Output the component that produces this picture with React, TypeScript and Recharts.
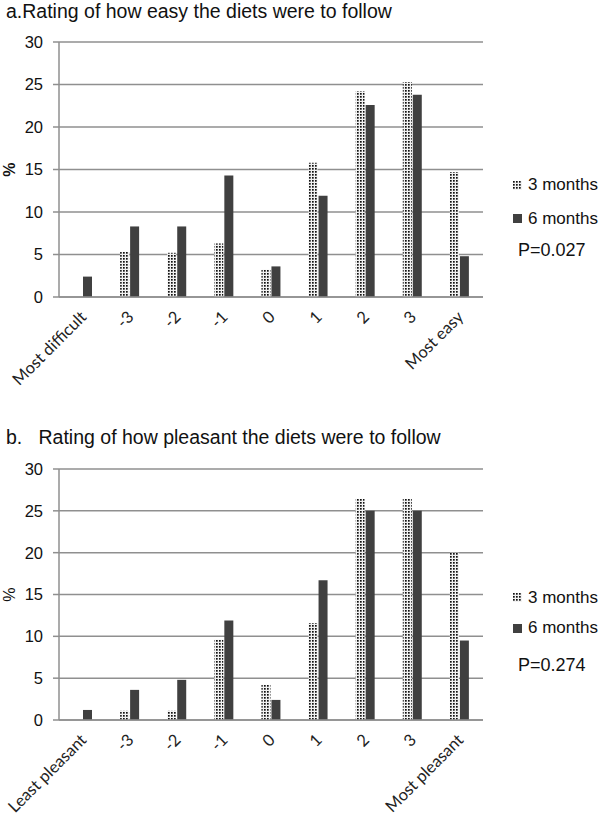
import React from 'react';
import { BarChart, Bar, XAxis, YAxis, CartesianGrid, Legend } from 'recharts';

const categoriesA = ['Most difficult', '-3', '-2', '-1', '0', '1', '2', '3', 'Most easy'];
const easy3 = [0, 5.3, 5.2, 6.3, 3.2, 15.8, 24.2, 25.3, 14.7];
const easy6 = [2.4, 8.3, 8.3, 14.3, 3.6, 11.9, 22.6, 23.8, 4.8];

const categoriesB = ['Least pleasant', '-3', '-2', '-1', '0', '1', '2', '3', 'Most pleasant'];
const pleasant3 = [0, 1.1, 1.1, 9.6, 4.2, 11.6, 26.4, 26.4, 20.0];
const pleasant6 = [1.2, 3.6, 4.8, 11.9, 2.4, 16.7, 25.0, 25.0, 9.5];

const yTicks = [0, 5, 10, 15, 20, 25, 30];
const seriesNames = ['3 months', '6 months'];

const GRID = '#8f8f8f';
const DARK = '#404040';
const SANS = '"Liberation Sans", Arial, sans-serif';

const build = (cats: string[], a: number[], b: number[]) =>
  cats.map((c, i) => ({ cat: c, m3: a[i], m6: b[i] }));

const XTick = (props: any) => {
  const { x, y, payload } = props;
  return (
    <g transform={`translate(${x + 5},${y + 13})`}>
      <text
        x={0}
        y={0}
        textAnchor="end"
        transform="rotate(-45)"
        fontFamily="Lato, 'Open Sans', sans-serif"
        fontSize={16.5}
        fill="#222"
      >
        {payload.value}
      </text>
    </g>
  );
};

const LegendBox = ({ rows, pValue }: { rows: number[]; pValue: string }) => (
  <div style={{ position: 'relative', width: 0, height: 0, overflow: 'visible', fontFamily: SANS, color: '#111' }}>
    <div style={{ position: 'absolute', left: 0, top: rows[0] - 10, height: 20, display: 'flex', alignItems: 'center', fontSize: 17, whiteSpace: 'nowrap' }}>
      <svg width={9} height={9} style={{ marginRight: 6 }}>
        <rect x={0} y={0} width={9} height={9} fill="url(#dotPattern)" />
      </svg>
      {seriesNames[0]}
    </div>
    <div style={{ position: 'absolute', left: 0, top: rows[1] - 10, height: 20, display: 'flex', alignItems: 'center', fontSize: 17, whiteSpace: 'nowrap' }}>
      <svg width={9} height={9} style={{ marginRight: 6 }}>
        <rect x={0} y={0} width={9} height={9} fill={DARK} />
      </svg>
      {seriesNames[1]}
    </div>
    <div style={{ position: 'absolute', left: 5, top: rows[2] - 11, height: 22, lineHeight: '22px', fontSize: 18, whiteSpace: 'nowrap' }}>
      {pValue}
    </div>
  </div>
);

type PanelProps = {
  top: number;
  height: number;
  marginTop: number;
  xAxisHeight: number;
  data: any[];
  title: string;
  titleTop: number;
  boldPct: boolean;
  legendRows: number[];
  pValue: string;
};

const Panel = (p: PanelProps) => (
  <div style={{ position: 'absolute', left: 0, top: p.top, width: 600, height: p.height }}>
    <div
      style={{
        position: 'absolute',
        left: 6,
        top: p.titleTop,
        fontFamily: SANS,
        fontSize: 19.5,
        lineHeight: '19.5px',
        color: '#111',
        whiteSpace: 'pre',
      }}
    >
      {p.title}
    </div>
    <BarChart
      width={600}
      height={p.height}
      data={p.data}
      margin={{ top: p.marginTop, right: 117, bottom: 0, left: 0 }}
      barSize={9}
      barGap={1}
    >
      <CartesianGrid vertical={false} stroke={GRID} strokeWidth={1.5} />
      <XAxis
        dataKey="cat"
        interval={0}
        height={p.xAxisHeight}
        tickLine={false}
        axisLine={{ stroke: GRID, strokeWidth: 1.5 }}
        tick={<XTick />}
      />
      <YAxis
        width={59}
        domain={[0, 30]}
        ticks={yTicks}
        interval={0}
        tickSize={6}
        tickMargin={10}
        tickLine={{ stroke: GRID, strokeWidth: 1.5 }}
        axisLine={{ stroke: GRID, strokeWidth: 1.5 }}
        tick={{ fontFamily: SANS, fontSize: 16.5, fill: '#111' }}
        label={{
          content: (lp: any) => {
            const vb = lp.viewBox || {};
            const cx = 9;
            const cy = vb.y + vb.height / 2;
            return (
              <text
                x={cx}
                y={cy}
                transform={`rotate(-90, ${cx}, ${cy})`}
                textAnchor="middle"
                dominantBaseline="central"
                fontFamily={SANS}
                fontSize={16}
                fontWeight={p.boldPct ? 'bold' : 'normal'}
                fill="#111"
              >
                %
              </text>
            );
          },
        }}
      />
      <Legend
        content={() => <LegendBox rows={p.legendRows} pValue={p.pValue} />}
        wrapperStyle={{ position: 'absolute', left: 513, top: 0, width: 0, height: 0 }}
      />
      <Bar dataKey="m3" name={seriesNames[0]} fill="url(#dotPattern)" isAnimationActive={false} />
      <Bar dataKey="m6" name={seriesNames[1]} fill={DARK} isAnimationActive={false} />
    </BarChart>
  </div>
);

export default function App() {
  const dataA = build(categoriesA, easy3, easy6);
  const dataB = build(categoriesB, pleasant3, pleasant6);
  return (
    <div style={{ position: 'absolute', left: 0, top: 0, width: 600, height: 815, background: '#fff', overflow: 'hidden' }}>
      <svg width={0} height={0} style={{ position: 'absolute' }}>
        <defs>
          <pattern id="dotPattern" patternUnits="userSpaceOnUse" width={3} height={3}>
            <rect x={0} y={0} width={3} height={3} fill="#f2f2f2" />
            <rect x={0} y={0} width={1.7} height={1.7} fill="#111" />
          </pattern>
        </defs>
      </svg>
      <Panel
        top={0}
        height={390}
        marginTop={42}
        xAxisHeight={93}
        data={dataA}
        title="a.Rating of how easy the diets were to follow"
        titleTop={2}
        boldPct={true}
        legendRows={[185, 218.5, 250]}
        pValue="P=0.027"
      />
      <Panel
        top={400}
        height={415}
        marginTop={69}
        xAxisHeight={95}
        data={dataB}
        title="b.   Rating of how pleasant the diets were to follow"
        titleTop={27.5}
        boldPct={false}
        legendRows={[197.5, 228, 265]}
        pValue="P=0.274"
      />
    </div>
  );
}
